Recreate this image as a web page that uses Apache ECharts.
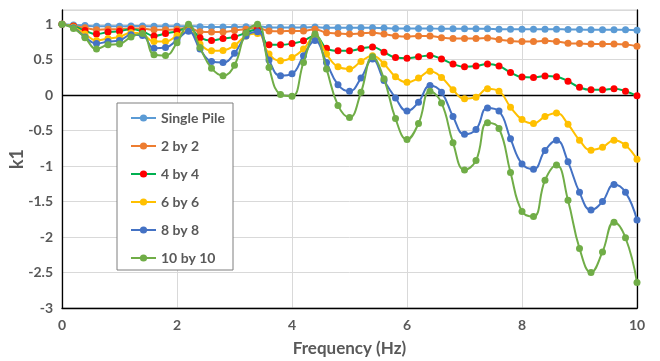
<!DOCTYPE html>
<html>
<head>
<meta charset="utf-8">
<script src="https://cdn.jsdelivr.net/npm/echarts@6/dist/echarts.min.js"></script>
<style>
html,body{margin:0;padding:0;background:#fff;}
#chart{width:660px;height:361px;}
</style>
</head>
<body>
<div id="chart"></div>
<script>
const freq = [0,0.2,0.4,0.6,0.8,1,1.2,1.4,1.6,1.8,2,2.2,2.4,2.6,2.8,3,3.2,3.4,3.6,3.8,4,4.2,4.4,4.6,4.8,5,5.2,5.4,5.6,5.8,6,6.2,6.4,6.6,6.8,7,7.2,7.4,7.6,7.8,8,8.2,8.4,8.6,8.8,9,9.2,9.4,9.6,9.8,10];

const seriesNames = ['Single Pile','2 by 2','4 by 4','6 by 6','8 by 8','10 by 10'];

const singlePile = [1.00,0.99,0.98,0.97,0.97,0.97,0.975,0.975,0.97,0.97,0.97,0.975,0.965,0.96,0.96,0.96,0.965,0.97,0.955,0.955,0.955,0.955,0.96,0.95,0.95,0.95,0.95,0.95,0.945,0.94,0.94,0.94,0.94,0.935,0.935,0.935,0.935,0.935,0.93,0.93,0.93,0.93,0.93,0.93,0.925,0.925,0.92,0.92,0.92,0.92,0.915];

const by2 = [1.00,0.975,0.95,0.92,0.93,0.93,0.94,0.94,0.92,0.92,0.93,0.95,0.895,0.89,0.89,0.91,0.93,0.95,0.905,0.90,0.905,0.905,0.93,0.88,0.87,0.86,0.87,0.88,0.86,0.835,0.825,0.835,0.835,0.81,0.80,0.80,0.80,0.805,0.783,0.765,0.755,0.755,0.765,0.755,0.733,0.727,0.72,0.72,0.72,0.715,0.69];

const by4 = [1.00,0.97,0.91,0.86,0.89,0.90,0.93,0.90,0.835,0.87,0.90,0.95,0.81,0.77,0.80,0.82,0.88,0.93,0.71,0.71,0.727,0.765,0.84,0.66,0.625,0.625,0.657,0.68,0.605,0.53,0.52,0.54,0.56,0.51,0.44,0.40,0.41,0.44,0.41,0.32,0.256,0.25,0.27,0.26,0.196,0.11,0.075,0.075,0.09,0.056,-0.01];

const by6 = [1.00,0.96,0.86,0.77,0.80,0.82,0.88,0.86,0.755,0.755,0.84,0.91,0.72,0.625,0.63,0.70,0.835,0.87,0.58,0.485,0.53,0.65,0.835,0.58,0.40,0.37,0.475,0.555,0.44,0.26,0.18,0.24,0.335,0.25,0.075,-0.05,-0.03,0.09,0.055,-0.17,-0.345,-0.40,-0.30,-0.25,-0.41,-0.635,-0.775,-0.735,-0.635,-0.705,-0.905];

const by8 = [1.00,0.95,0.82,0.727,0.755,0.77,0.85,0.84,0.66,0.67,0.78,0.90,0.65,0.475,0.46,0.59,0.835,0.895,0.495,0.275,0.30,0.555,0.77,0.46,0.145,0.055,0.24,0.51,0.205,-0.04,-0.225,-0.10,0.135,0.04,-0.30,-0.55,-0.485,-0.18,-0.225,-0.615,-0.97,-1.045,-0.78,-0.635,-0.94,-1.37,-1.62,-1.50,-1.26,-1.37,-1.76];

const by10 = [1.00,0.94,0.81,0.65,0.71,0.72,0.82,0.87,0.57,0.56,0.74,1.00,0.67,0.38,0.275,0.42,0.88,1.00,0.39,0.01,-0.015,0.46,0.86,0.37,-0.145,-0.315,0.04,0.54,0.23,-0.33,-0.625,-0.40,0.055,-0.11,-0.67,-1.055,-0.92,-0.39,-0.47,-1.09,-1.64,-1.71,-1.20,-0.985,-1.48,-2.16,-2.50,-2.21,-1.79,-2.01,-2.64];

const xTicks = [0,2,4,6,8,10];
const yTicks = [-3,-2.5,-2,-1.5,-1,-0.5,0,0.5,1];

const values = [singlePile, by2, by4, by6, by8, by10];
const lineColors = ['#5B9BD5','#ED7D31','#00B050','#FFC000','#4472C4','#70AD47'];
const markerColors = ['#5B9BD5','#ED7D31','#FF0000','#FFC000','#4472C4','#70AD47'];

const font = 'Lato, "Open Sans", "Liberation Sans", sans-serif';
const textColor = '#595959';

const series = seriesNames.map((name, i) => ({
  name: name,
  type: 'line',
  data: freq.map((f, j) => [f, values[i][j]]),
  smooth: 0.45,
  symbol: 'circle',
  symbolSize: 7,
  showSymbol: true,
  lineStyle: { color: lineColors[i], width: 2 },
  itemStyle: { color: markerColors[i], borderWidth: 0 },
  z: 3 + i,
  animation: false
}));

series[0].markLine = {
  silent: true,
  symbol: 'none',
  label: { show: false },
  lineStyle: { color: '#000', width: 1.3, type: 'solid' },
  data: [{ yAxis: 0 }],
  animation: false
};

const chart = echarts.init(document.getElementById('chart'), null, { renderer: 'canvas' });
chart.setOption({
  backgroundColor: '#fff',
  animation: false,
  grid: { left: 62, right: 23, top: 10, bottom: 53, outerBoundsMode: 'none', containLabel: false,
    show: true, borderColor: '#d0d0d0', borderWidth: 1, backgroundColor: 'transparent' },
  legend: {
    orient: 'vertical',
    left: 117,
    top: 103,
    padding: [8, 8, 5, 13],
    itemGap: 14,
    itemWidth: 25,
    itemHeight: 9,
    backgroundColor: '#fff',
    borderColor: '#7f7f7f',
    borderWidth: 1,
    textStyle: { color: textColor, fontWeight: 'bold', fontSize: 14, fontFamily: font },
    data: seriesNames
  },
  xAxis: {
    type: 'value',
    min: 0, max: 10, interval: 2,
    name: 'Frequency (Hz)',
    nameLocation: 'middle',
    nameGap: 32,
    nameMoveOverlap: false,
    nameTextStyle: { color: textColor, fontWeight: 'bold', fontSize: 17, fontFamily: font },
    axisLine: { onZero: false, lineStyle: { color: '#000', width: 1.3 } },
    axisTick: { show: false },
    axisLabel: { color: textColor, fontWeight: 'bold', fontSize: 14, fontFamily: font, margin: 10,
      formatter: v => (xTicks.indexOf(v) >= 0 ? String(v) : '') },
    splitLine: { show: true, lineStyle: { color: '#d9d9d9', width: 1 } }
  },
  yAxis: [{
    type: 'value',
    min: -3, max: 1.2, interval: 0.5,
    name: 'k1',
    nameLocation: 'middle',
    nameGap: 36,
    nameRotate: 90,
    nameMoveOverlap: false,
    nameTextStyle: { color: textColor, fontWeight: 'bold', fontSize: 18, fontFamily: font },
    axisLine: { show: true, onZero: false, lineStyle: { color: '#000', width: 1.3 } },
    axisTick: { show: false },
    axisLabel: { color: textColor, fontWeight: 'bold', fontSize: 14, fontFamily: font, margin: 9, showMaxLabel: false,
      formatter: v => (yTicks.indexOf(v) >= 0 ? String(v) : '') },
    splitLine: { show: true, lineStyle: { color: '#d9d9d9', width: 1 } }
  }, {
    type: 'value',
    position: 'right',
    min: -3, max: 1.2,
    axisLine: { show: true, onZero: false, lineStyle: { color: '#000', width: 1.3 } },
    axisTick: { show: false },
    axisLabel: { show: false },
    splitLine: { show: false }
  }],
  series: series
});
</script>
</body>
</html>
